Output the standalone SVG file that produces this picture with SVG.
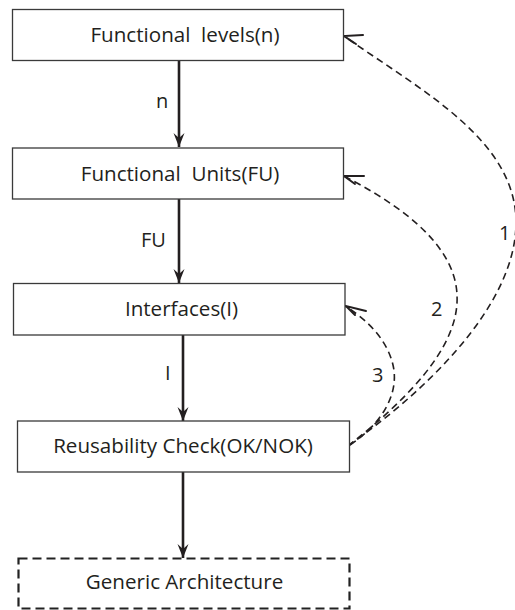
<svg xmlns="http://www.w3.org/2000/svg" width="515" height="610" viewBox="0 0 515 610">
  <style>
    .box { fill: #ffffff; stroke: #3a3a3a; stroke-width: 1.3; }
    .box-dashed { fill: #ffffff; stroke: #222222; stroke-width: 2.2; stroke-dasharray: 9 5; }
    .label { font-family: "Open Sans", "Noto Sans", sans-serif; font-size: 20.6px; fill: #231f20; text-anchor: middle; white-space: pre; }
    .edge-label { font-family: "Open Sans", "Noto Sans", sans-serif; font-size: 20px; fill: #231f20; }
    .flow { fill: none; stroke: #231f20; stroke-width: 2.6; marker-end: url(#arrow); }
    .feedback { fill: none; stroke: #231f20; stroke-width: 1.6; stroke-dasharray: 7 4.5; }
    .barb { fill: none; stroke: #231f20; stroke-width: 2; stroke-linecap: round; }
  </style>
  <defs>
    <marker id="arrow" markerUnits="userSpaceOnUse" markerWidth="16" markerHeight="14" viewBox="-15 -7 16 14" refX="0" refY="0" orient="auto">
      <path d="M0,0 L-14,-5.5 L-9,0 L-14,5.5 Z" fill="#231f20"/>
    </marker>
  </defs>

  <!-- main flow and feedback loops -->
  <g id="connectors">
    <line class="flow" x1="179" y1="61" x2="179" y2="147"/>
    <line class="flow" x1="179" y1="199" x2="179" y2="283"/>
    <line class="flow" x1="183" y1="335" x2="183" y2="421"/>
    <line class="flow" x1="183" y1="472" x2="183" y2="558"/>

    <path class="feedback" d="M348,446 C420,395 514,310 516,225 C518,140 420,90 344,36"/>
    <path class="feedback" d="M348,446 C400,405 460,350 457,295 C455,240 390,200 344,176"/>
    <path class="feedback" d="M350,445 C380,425 400,395 393,365 C386,335 360,315 345,306"/>

    <path class="barb" d="M363,35 L344,36 L356,44"/>
    <path class="barb" d="M364,176 L344,176 L355,184"/>
    <path class="barb" d="M366,311 L346,306 L355,315"/>

    <text class="edge-label" x="156" y="108">n</text>
    <text class="edge-label" x="141" y="247">FU</text>
    <text class="edge-label" x="165" y="380">I</text>
    <text class="edge-label" x="499" y="240">1</text>
    <text class="edge-label" x="431" y="316">2</text>
    <text class="edge-label" x="372" y="382">3</text>
  </g>

  <g id="functional-levels">
    <rect class="box" x="12.5" y="9.5" width="331" height="51"/>
    <text class="label" x="185" y="42" xml:space="preserve">Functional  levels(n)</text>
  </g>
  <g id="functional-units">
    <rect class="box" x="12.5" y="148" width="331" height="51"/>
    <text class="label" x="180" y="181" xml:space="preserve">Functional  Units(FU)</text>
  </g>
  <g id="interfaces">
    <rect class="box" x="13.5" y="283.5" width="331.5" height="51.5"/>
    <text class="label" x="181.5" y="316">Interfaces(I)</text>
  </g>
  <g id="reusability-check">
    <rect class="box" x="17.5" y="421" width="332" height="51"/>
    <text class="label" x="183" y="453">Reusability Check(OK/NOK)</text>
  </g>
  <g id="generic-architecture">
    <rect class="box-dashed" x="18.5" y="558.5" width="331" height="50"/>
    <text class="label" x="184.5" y="589">Generic Architecture</text>
  </g>
</svg>
